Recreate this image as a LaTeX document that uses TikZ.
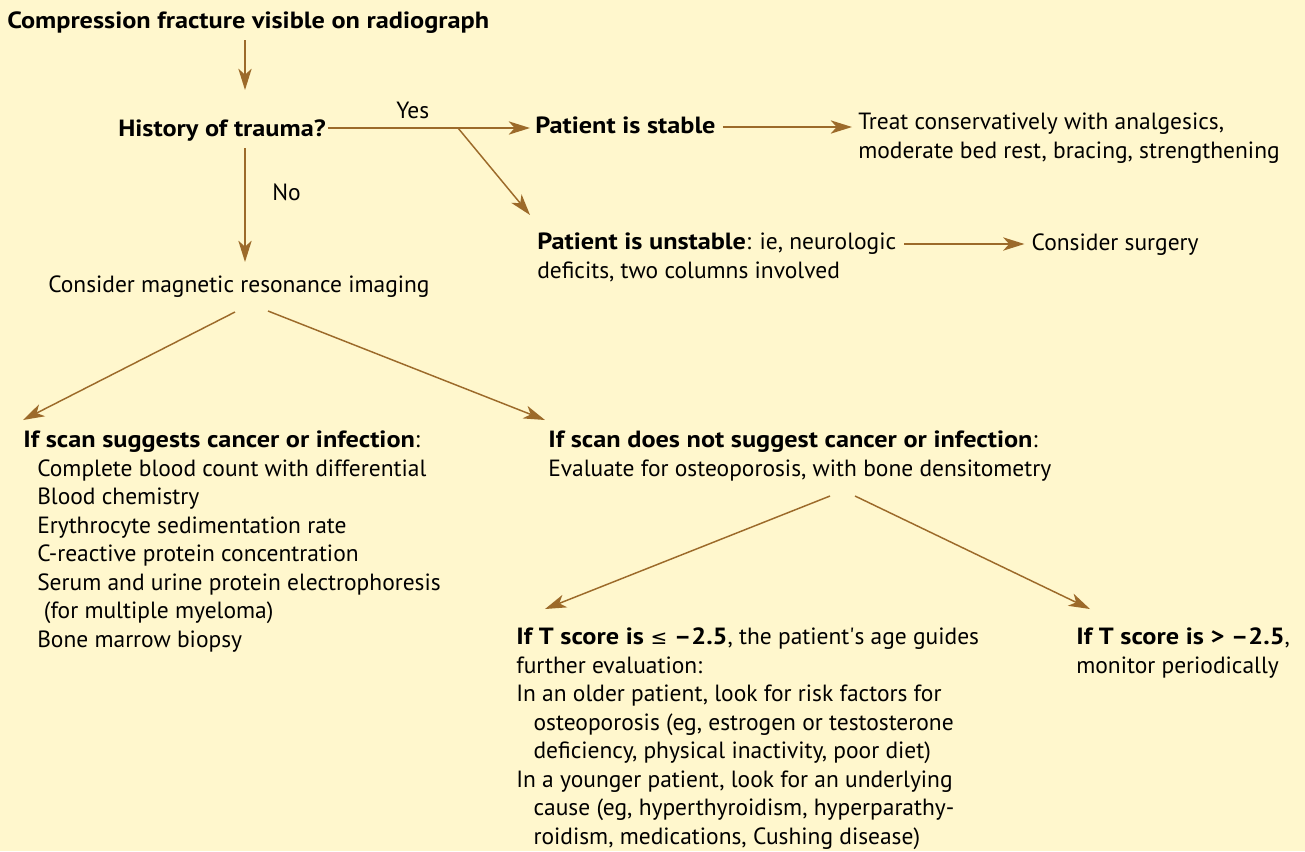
\documentclass[tikz,border=0pt]{standalone}
\usepackage{fontspec}
\setmainfont{PT Sans}[BoldFeatures={FakeStretch=1.12}]
\newfontfamily\symfont{DejaVu Sans}
\usetikzlibrary{calc}
\usetikzlibrary{arrows.meta,positioning}
\definecolor{paleyellow}{RGB}{255,247,205}
\definecolor{arrowbrown}{RGB}{156,106,42}

\begin{document}
\begin{tikzpicture}[x=0.75pt,y=-0.75pt,>=Stealth, every node/.style={font=\fontsize{17.6}{21.4}\selectfont,inner sep=0pt,anchor=base west,align=left}]
    \tikzset{link/.style={draw=arrowbrown,line width=1.1pt,-{Stealth[length=16pt,width=10pt,inset=4.5pt]}}}
    \fill[paleyellow] (0,0) rectangle (1305,851);
    \useasboundingbox (0,0) rectangle (1305,851);

    % Top of the chart (multi-line nodes sit on their last baseline)
    \node (title) at (7,28) {\textbf{Compression fracture visible on radiograph}};
    \node (hist) at (118,136) {\textbf{History of trauma?}};
    \node (yes) at (396,118) {Yes};
    \node (no) at (272,200) {No};

    % Trauma branch
    \node (stable) at (535,133) {\textbf{Patient is stable}};
    \node (treat) at (858,158) {Treat conservatively with analgesics,\\moderate bed rest, bracing, strengthening};
    \node (unstable) at (537,278.5) {\textbf{Patient is unstable}: ie, neurologic\\deficits, two columns involved};
    \node (surgery) at ($(unstable.base east)+(135,-28.5)$) {Consider surgery};

    % No trauma: imaging
    \node (mri) at (48,292) {Consider magnetic resonance imaging};
    \node (cancer) at (23,647.5) {\textbf{If scan suggests cancer or infection}:\\
      \hspace*{10.5pt}Complete blood count with differential\\
      \hspace*{10.5pt}Blood chemistry\\
      \hspace*{10.5pt}Erythrocyte sedimentation rate\\
      \hspace*{10.5pt}C-reactive protein concentration\\
      \hspace*{10.5pt}Serum and urine protein electrophoresis\\
      \hspace*{15.5pt}(for multiple myeloma)\\
      \hspace*{10.5pt}Bone marrow biopsy};
    \node (noncancer) at (548,476.5) {\textbf{If scan does not suggest cancer or infection}:\\Evaluate for osteoporosis, with bone densitometry};

    % Bone densitometry results
    \node (lowT) at (516,844.5) {\textbf{If T score is {\symfont\mdseries\fontsize{15}{21.4}\selectfont ≤} –2.5}, the patient\textquotesingle s age guides\\
      further evaluation:\\
      In an older patient, look for risk factors for\\
      \hspace*{13pt}osteoporosis (eg, estrogen or testosterone\\
      \hspace*{13pt}deficiency, physical inactivity, poor diet)\\
      In a younger patient, look for an underlying\\
      \hspace*{13pt}cause (eg, hyperthyroidism, hyperparathy-\\
      \hspace*{13pt}roidism, medications, Cushing disease)};
    \node (highT) at (1076,673.5) {\textbf{If T score is > –2.5},\\monitor periodically};

    % Arrows
    \draw[link] ($(title.base west)+(238,12)$) -- ($(hist.base west)+(127,-46)$);
    \draw[link] ($(hist.base east)+(2,-8)$) -- ($(stable.base west)+(-5,-5)$);
    \draw[link] ($(stable.base west)+(-77,-5)$) -- ($(unstable.base west)+(-7,-63.5)$);
    \draw[link] ($(stable.base east)+(7,-6)$) -- ($(treat.base west)+(-6,-31)$);
    \draw[link] ($(hist.base west)+(127,12)$) -- ($(mri.base west)+(197,-30)$);
    \draw[link] ($(unstable.base east)+(8,-34.5)$) -- ($(surgery.base west)+(-7,-6)$);
    \draw[link] ($(mri.base west)+(187,20)$) -- ($(cancer.base west)+(0,-227.5)$);
    \draw[link] ($(mri.base west)+(220,19)$) -- ($(noncancer.base west)+(-3,-56.5)$);
    \draw[link] ($(noncancer.base west)+(282,19.5)$) -- ($(lowT.base west)+(29,-235.5)$);
    \draw[link] ($(noncancer.base west)+(307,19.5)$) -- ($(highT.base west)+(14,-64.5)$);
  \end{tikzpicture}
\end{document}
